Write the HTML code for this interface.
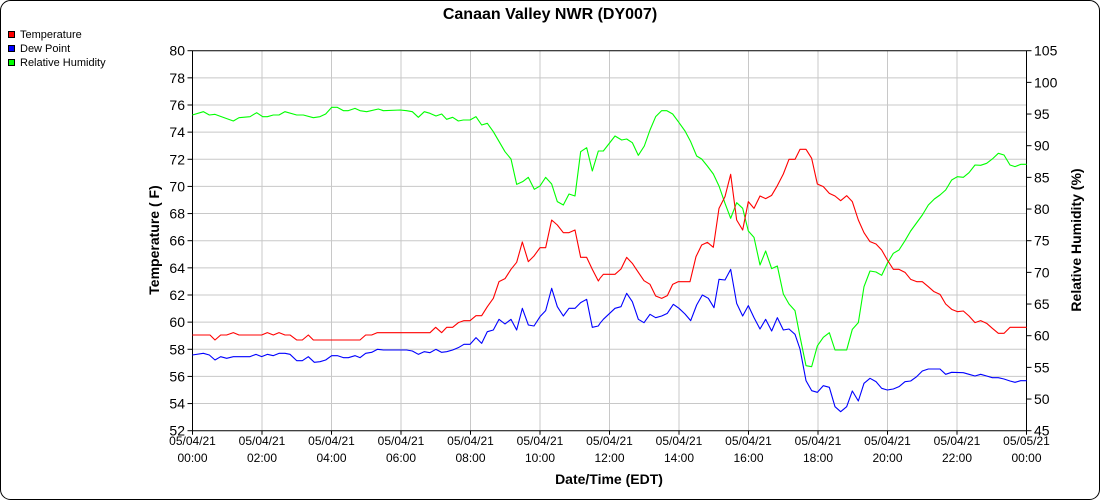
<!DOCTYPE html>
<html><head><meta charset="utf-8"><style>
html,body{margin:0;padding:0;background:#fff;}
svg{display:block;font-family:"Liberation Sans",sans-serif;}
</style></head><body>
<svg width="1100" height="500" viewBox="0 0 1100 500" xmlns="http://www.w3.org/2000/svg">
<rect x="0.5" y="0.5" width="1099" height="499" rx="10" fill="#fff" stroke="#000" stroke-width="1"/>
<text x="550" y="19" text-anchor="middle" font-size="16" font-weight="bold">Canaan Valley NWR (DY007)</text>
<g font-size="11">
<rect x="8.5" y="31.5" width="6" height="6" fill="#f00" stroke="#000"/><text x="20" y="38">Temperature</text>
<rect x="8.5" y="45.5" width="6" height="6" fill="#00f" stroke="#000"/><text x="20" y="52">Dew Point</text>
<rect x="8.5" y="59.5" width="6" height="6" fill="#0f0" stroke="#000"/><text x="20" y="66">Relative Humidity</text>
</g>
<g id="grid" stroke="#c8c8c8" stroke-width="1"></g>
<g id="ax"></g>
<g fill="none" stroke-width="1.1" stroke-linejoin="round">
<g transform="translate(180,40) scale(0.33333)">
<polyline vector-effect="non-scaling-stroke" stroke="#0f0" points="37,225 70,215 88,225 105,223 160,243 177,233 210,230 230,218 248,230 262,230 280,225 297,225 315,215 350,225 370,225 400,233 420,230 437,222 455,202 472,202 490,212 505,212 525,205 540,212 560,215 595,207 610,212 660,210 680,212 697,215 715,232 733,215 750,220 768,228 785,222 800,238 818,232 835,243 850,240 870,240 888,230 905,255 922,250 940,275 975,335 993,357 1010,433 1028,425 1045,412 1063,448 1080,438 1097,412 1115,432 1132,485 1150,495 1167,462 1185,468 1202,335 1220,323 1237,393 1255,333 1270,333 1260,333"/>
<polyline vector-effect="non-scaling-stroke" stroke="#f00" points="37,885 90,885 105,900 122,885 140,885 160,878 177,885 245,885 262,878 280,885 297,878 315,885 330,885 350,900 367,900 385,885 400,900 540,900 557,885 575,885 592,878 750,878 767,862 785,878 800,862 818,862 835,848 852,842 870,842 888,827 905,827 922,800 940,775 957,725 975,716 993,688 1010,667 1027,606 1045,665 1062,648 1080,623 1097,623 1115,540 1132,555 1150,578 1167,578 1185,570 1202,652 1220,652 1237,688 1255,723 1260,715"/>
<polyline vector-effect="non-scaling-stroke" stroke="#00f" points="37,945 70,940 88,945 105,960 122,950 140,955 160,950 210,950 228,943 245,950 262,943 280,947 297,940 315,940 330,943 350,962 367,962 385,950 403,967 420,965 437,960 455,947 472,947 490,953 505,953 525,947 540,953 557,940 575,937 592,928 610,930 680,930 697,933 715,943 733,935 750,938 768,928 785,937 800,935 818,930 835,923 852,913 870,913 888,893 905,910 922,875 940,870 957,838 975,852 993,838 1010,870 1027,805 1045,855 1062,858 1080,830 1097,812 1115,745 1132,800 1150,828 1167,805 1185,805 1202,788 1220,778 1237,862 1255,858 1260,850"/>
</g>
<g transform="translate(600,40) scale(0.33333)">
<polyline vector-effect="non-scaling-stroke" stroke="#0f0" points="0,333 10,333 45,288 65,300 80,297 97,308 115,346 133,318 150,270 167,230 185,212 200,212 218,222 235,245 255,273 272,305 290,348 305,357 322,378 340,402 357,438 375,490 392,535 410,488 428,505 445,573 462,592 480,675 497,633 515,686 532,678 550,762 567,792 585,812 600,890 618,977 635,980 652,918 670,892 688,878 705,930 740,930 757,868 775,848 792,740 810,693 828,696 845,706 862,670 880,640 897,630 915,602 932,573 967,525 985,495 1003,477 1020,465 1037,450 1055,420 1072,410 1090,412 1107,398 1125,375 1142,376 1160,370 1177,357 1195,340 1212,345 1230,375 1245,380 1262,373 1280,373"/>
<polyline vector-effect="non-scaling-stroke" stroke="#f00" points="0,715 10,703 45,703 63,687 80,652 97,670 115,697 132,722 150,733 167,768 185,775 202,767 218,733 235,725 270,725 288,650 305,615 322,607 340,622 357,505 375,470 392,403 410,540 428,570 445,485 462,505 480,468 497,476 515,466 532,437 550,402 567,358 585,358 600,328 618,328 635,355 652,432 670,440 688,460 705,468 722,482 740,467 757,485 775,540 792,578 810,605 828,612 845,630 862,660 880,688 897,688 915,697 932,718 950,725 967,725 985,740 1002,755 1020,763 1037,792 1055,808 1072,815 1090,813 1107,828 1125,848 1142,842 1160,850 1177,865 1195,880 1212,880 1230,862 1280,862"/>
<polyline vector-effect="non-scaling-stroke" stroke="#00f" points="0,850 10,838 45,805 63,800 80,760 97,785 115,838 132,848 150,823 167,833 185,828 202,820 220,793 237,805 255,822 272,842 290,795 307,765 325,775 342,803 357,718 375,720 392,688 410,790 428,828 445,797 462,833 480,867 497,838 515,873 532,833 550,870 567,867 585,883 600,927 618,1022 635,1052 652,1057 670,1037 688,1042 705,1100 722,1115 740,1100 757,1053 775,1083 792,1030 810,1015 828,1025 845,1045 862,1050 880,1047 897,1040 915,1025 932,1023 950,1010 967,993 985,987 1020,987 1037,1003 1055,997 1090,998 1107,1003 1125,1008 1142,1003 1160,1008 1177,1013 1195,1013 1212,1017 1230,1023 1245,1027 1262,1022 1280,1022"/>
</g>
</g>
<text x="159" y="240" transform="rotate(-90 159 240)" text-anchor="middle" font-size="14" font-weight="bold">Temperature ( F)</text>
<text x="1081" y="240" transform="rotate(-90 1081 240)" text-anchor="middle" font-size="14" font-weight="bold">Relative Humidity (%)</text>
<text x="609" y="484" text-anchor="middle" font-size="14" font-weight="bold">Date/Time (EDT)</text>
<script>
(function(){
var ns="http://www.w3.org/2000/svg";
var g=document.getElementById('grid'),a=document.getElementById('ax');
function el(p,t,at,txt){var e=document.createElementNS(ns,t);for(var k in at)e.setAttribute(k,at[k]);if(txt!=null)e.textContent=txt;p.appendChild(e);return e;}
var L=192.5,R=1026.5,T=50.7,B=430.7;
for(var i=0;i<=14;i++){var y=T+(B-T)*i/14;
 if(i>0&&i<14)el(g,'line',{x1:L,x2:R,y1:y,y2:y});
 el(a,'line',{x1:L-5,x2:L,y1:y,y2:y,stroke:'#000'});
 el(a,'text',{x:185,y:y+5,'text-anchor':'end','font-size':14},String(80-2*i));}
for(var i=0;i<=12;i++){var y=T+(B-T)*i/12;
 el(a,'line',{x1:R,x2:R+5,y1:y,y2:y,stroke:'#000'});
 el(a,'text',{x:1034,y:y+5,'font-size':14},String(105-5*i));}
var days=['05/04/21','05/04/21','05/04/21','05/04/21','05/04/21','05/04/21','05/04/21','05/04/21','05/04/21','05/04/21','05/04/21','05/04/21','05/05/21'];
for(var i=0;i<=12;i++){var x=L+(R-L)*i/12;
 if(i>0&&i<12)el(g,'line',{x1:x,x2:x,y1:T,y2:B});
 el(a,'line',{x1:x,x2:x,y1:B,y2:B+4,stroke:'#000'});
 el(a,'text',{x:x,y:445,'text-anchor':'middle','font-size':12},days[i]);
 var h=(2*i)%24;el(a,'text',{x:x,y:462,'text-anchor':'middle','font-size':12},(h<10?'0':'')+h+':00');}
el(a,'line',{x1:L,x2:R,y1:T,y2:T,stroke:'#000'});
el(a,'line',{x1:L,x2:R,y1:B,y2:B,stroke:'#000'});
el(a,'line',{x1:L,x2:L,y1:T,y2:B,stroke:'#000'});
el(a,'line',{x1:R,x2:R,y1:T,y2:B,stroke:'#000'});
})();
</script>
</svg>
</body></html>
